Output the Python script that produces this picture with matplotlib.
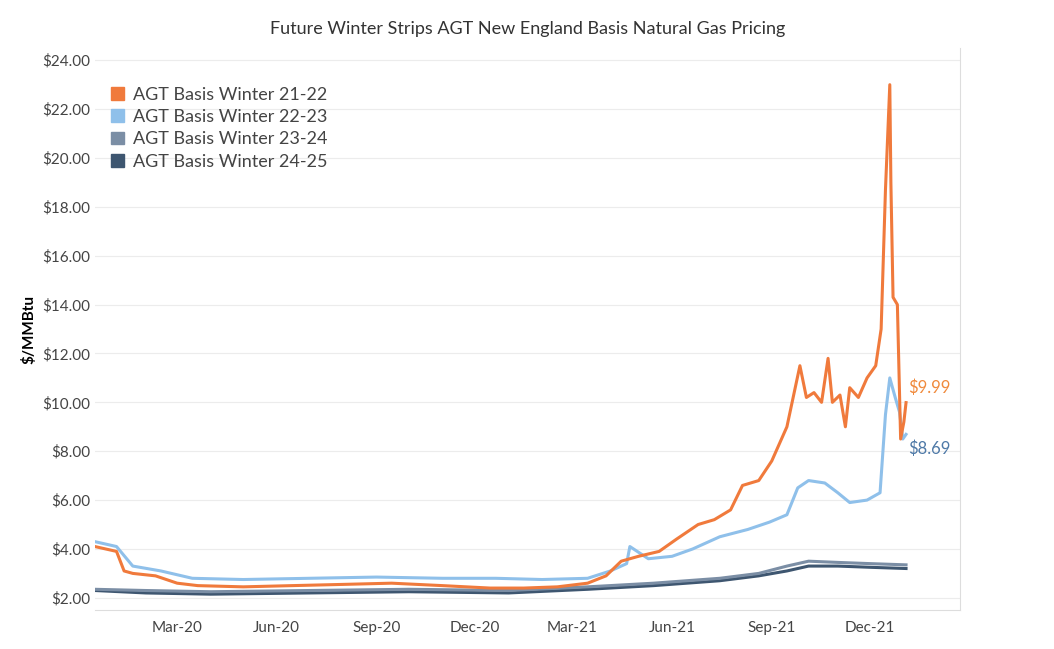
import matplotlib
matplotlib.use("Agg")
import matplotlib.pyplot as plt
import matplotlib.dates as mdates
import pandas as pd
from matplotlib.patches import Patch

plt.rcParams['font.family'] = ['Lato', 'DejaVu Sans']

d1 = ["2019-12-16","2020-01-05","2020-01-12","2020-01-20","2020-02-10","2020-03-01","2020-03-20","2020-05-01","2020-06-15","2020-08-01","2020-09-15","2020-11-01","2020-12-15","2021-01-15","2021-02-15","2021-03-15","2021-04-01","2021-04-15","2021-05-01","2021-05-20","2021-06-05","2021-06-25","2021-07-10","2021-07-25","2021-08-05","2021-08-20","2021-09-01","2021-09-15","2021-09-27","2021-10-03","2021-10-10","2021-10-17","2021-10-23","2021-10-27","2021-11-03","2021-11-08","2021-11-12","2021-11-20","2021-11-28","2021-12-06","2021-12-11","2021-12-15","2021-12-19","2021-12-20","2021-12-22","2021-12-26","2021-12-29","2022-01-01","2022-01-03"]
w2122 = [4.1,3.9,3.1,3.0,2.9,2.6,2.5,2.45,2.5,2.55,2.6,2.5,2.4,2.4,2.45,2.6,2.9,3.5,3.7,3.9,4.4,5.0,5.2,5.6,6.6,6.8,7.6,9.0,11.5,10.2,10.4,10.0,11.8,10.0,10.3,9.0,10.6,10.2,11.0,11.5,13.0,18.7,23.0,19.0,14.3,14.0,8.5,9.2,9.99]

d2 = ["2019-12-16","2020-01-05","2020-01-20","2020-02-15","2020-03-15","2020-05-01","2020-07-01","2020-09-01","2020-11-01","2020-12-20","2021-02-01","2021-03-15","2021-04-05","2021-04-20","2021-04-23","2021-05-10","2021-06-01","2021-06-20","2021-07-15","2021-08-10","2021-08-30","2021-09-15","2021-09-25","2021-10-05","2021-10-20","2021-11-01","2021-11-12","2021-11-28","2021-12-10","2021-12-15","2021-12-19","2021-12-24","2021-12-28","2021-12-31","2022-01-03"]
w2223 = [4.3,4.1,3.3,3.1,2.8,2.75,2.8,2.85,2.8,2.8,2.75,2.8,3.1,3.4,4.1,3.6,3.7,4.0,4.5,4.8,5.1,5.4,6.5,6.8,6.7,6.3,5.9,6.0,6.3,9.5,11.0,10.2,9.6,8.5,8.69]

d3 = ["2019-12-16","2020-02-01","2020-04-01","2020-07-01","2020-10-01","2021-01-01","2021-03-15","2021-05-15","2021-07-15","2021-08-20","2021-09-15","2021-10-05","2021-11-01","2021-12-01","2022-01-03"]
w2324 = [2.35,2.3,2.25,2.3,2.35,2.3,2.45,2.6,2.8,3.0,3.3,3.5,3.45,3.4,3.35]
w2425 = [2.3,2.2,2.15,2.2,2.25,2.2,2.35,2.5,2.7,2.9,3.1,3.3,3.3,3.25,3.2]

c1, c2, c3, c4 = "#f07a3c", "#8fc0ea", "#7b8ea5", "#3e5670"

fig = plt.figure(figsize=(10.54, 6.49), dpi=100)
ax = fig.add_axes([0.09, 0.06, 0.821, 0.866])
ax.plot(pd.to_datetime(d3), w2425, color=c4, lw=2.2)
ax.plot(pd.to_datetime(d3), w2324, color=c3, lw=2.2)
ax.plot(pd.to_datetime(d2), w2223, color=c2, lw=2.2)
ax.plot(pd.to_datetime(d1), w2122, color=c1, lw=2.2)

ax.set_xlim(pd.Timestamp("2019-12-16"), pd.Timestamp("2022-02-22"))
ax.set_ylim(1.5, 24.5)
ax.set_yticks(range(2, 25, 2))
ax.set_yticklabels([f"${v:.2f}" for v in range(2, 25, 2)], fontsize=11, color="#444")
ax.xaxis.set_major_locator(mdates.MonthLocator(bymonth=[3, 6, 9, 12]))
ax.xaxis.set_major_formatter(mdates.DateFormatter("%b-%y"))
ax.tick_params(axis='x', labelsize=11, colors="#444", length=0, pad=8)
ax.tick_params(axis='y', length=0)
ax.grid(axis='y', color="#ececec", lw=0.8)
for s in ["top", "left"]:
    ax.spines[s].set_visible(False)
ax.spines["right"].set_color("#dddddd")
ax.spines["bottom"].set_color("#dddddd")
ax.set_ylabel("$/MMBtu", fontsize=11, fontweight="bold")
ax.set_title("Future Winter Strips AGT New England Basis Natural Gas Pricing", fontsize=13, color="#333", pad=10)

xe = pd.Timestamp(d1[-1]) + pd.Timedelta(days=2)
ax.text(xe, w2122[-1] + 0.6, f"${w2122[-1]:.2f}", color="#f08a3c", fontsize=12, va="center")
ax.text(xe, w2223[-1] - 0.6, f"${w2223[-1]:.2f}", color="#4e79a7", fontsize=12, va="center")

handles = [Patch(color=c) for c in (c1, c2, c3, c4)]
labels = ["AGT Basis Winter 21-22", "AGT Basis Winter 22-23", "AGT Basis Winter 23-24", "AGT Basis Winter 24-25"]
ax.legend(handles, labels, loc="upper left", bbox_to_anchor=(0.0, 0.96), frameon=False, fontsize=13,
          handlelength=0.7, handleheight=0.7, labelspacing=0.35, handletextpad=0.5, labelcolor="#444")
fig.savefig("out.png", dpi=100)
